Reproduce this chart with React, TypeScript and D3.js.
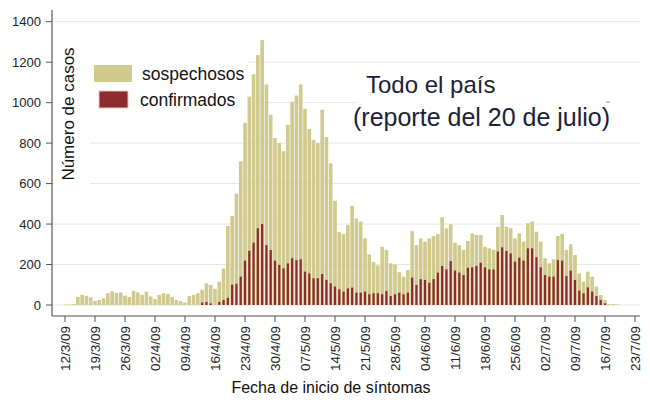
import React from "react";
import * as d3 from "d3";

// Daily series starting 12/3/2009
const startDate = new Date(2009, 2, 12);
const endDate = new Date(2009, 6, 23);

const sospechosos = [
  3, 3, 5, 40, 50, 45, 38, 20, 25, 33,
  58, 68, 60, 62, 46, 40, 70, 62, 50, 66,
  42, 30, 50, 58, 55, 40, 25, 20, 12, 44,
  50, 58, 75, 107, 99, 80, 115, 180, 390, 440,
  550, 710, 900, 1030, 1140, 1235, 1310, 1090, 940, 825,
  800, 760, 890, 1005, 1035, 1090, 970, 870, 815, 800,
  965, 830, 700, 515, 360, 350, 395, 490, 428, 412,
  330, 250, 212, 195, 288, 272, 206, 200, 162, 140,
  173, 365, 296, 329, 313, 329, 341, 350, 433, 379,
  399, 308, 296, 272, 316, 354, 346, 346, 288, 280,
  272, 387, 445, 387, 379, 329, 354, 313, 404, 412,
  362, 313, 231, 206, 226, 341, 351, 272, 300, 247,
  156, 115, 165, 140, 91, 49, 25, 5, 5, 3,
];

const confirmados = [
  0, 0, 0, 0, 0, 0, 0, 0, 0, 0,
  0, 0, 0, 0, 0, 0, 0, 0, 0, 0,
  0, 0, 0, 0, 0, 0, 0, 0, 0, 0,
  0, 0, 12, 15, 8, 0, 15, 25, 35, 100,
  105, 140, 219, 268, 308, 379, 400, 296, 272, 219,
  198, 181, 206, 231, 222, 226, 165, 156, 132, 132,
  153, 124, 107, 91, 77, 66, 82, 86, 61, 61,
  66, 53, 58, 58, 53, 69, 44, 53, 61, 53,
  61, 135, 99, 128, 124, 110, 128, 160, 193, 176,
  217, 170, 160, 148, 184, 186, 193, 209, 186, 176,
  176, 264, 285, 267, 255, 214, 234, 219, 280, 280,
  236, 186, 148, 140, 140, 222, 219, 143, 170, 124,
  71, 58, 87, 66, 44, 25, 8, 0, 0, 0,
];

const xTickLabels = [
  "12/3/09", "19/3/09", "26/3/09", "02/4/09", "09/4/09", "16/4/09", "23/4/09",
  "30/4/09", "07/5/09", "14/5/09", "21/5/09", "28/5/09", "04/6/09", "11/6/09",
  "18/6/09", "25/6/09", "02/7/09", "09/7/09", "16/7/09", "23/7/09",
];

const yTicks = [0, 200, 400, 600, 800, 1000, 1200, 1400];

const legendLabels = ["sospechosos", "confirmados"];
const titleLines = ["Todo el país", "(reporte del 20 de julio)"];
const xTitle = "Fecha de inicio de síntomas";
const yTitle = "Número de casos";

const KHAKI = "#d0ca8e";
const RED = "#8d2c2e";
const FONT = "'Liberation Sans', Arial, sans-serif";

export default function App() {
  const x = d3.scaleTime().domain([startDate, endDate]).range([65, 635]);
  const y = d3.scaleLinear().domain([0, 1400]).range([305, 21.7]);
  const dayDate = (i: number) => d3.timeDay.offset(startDate, i);
  const wS = 3.6;
  const wC = 2.2;
  const axisY = 316;
  const axisX = 52;

  return (
    <svg width={650} height={400} style={{ display: "block", position: "absolute", left: 0, top: 0 }} fontFamily={FONT}>
      <rect x={0} y={0} width={650} height={400} fill="#fff" />
      {/* gridlines */}
      {yTicks.map((t) => (
        <line key={"g" + t} x1={axisX} x2={640} y1={y(t)} y2={y(t)} stroke="#e6e6e6" strokeWidth={1} />
      ))}
      {/* boxes behind y title, legend and title */}
      <rect x={54} y={40} width={36} height={150} fill="#fff" />
      <rect x={90} y={52} width={158} height={62} fill="#fff" />
      <rect x={357} y={68} width={283} height={64} fill="#fff" />
      <line x1={606} x2={610} y1={102} y2={102} stroke="#999" strokeWidth={1} />
      {/* bars */}
      {sospechosos.map((v, i) => (
        <rect key={"s" + i} x={x(dayDate(i)) - wS / 2} y={y(v)} width={wS} height={y(0) - y(v)} fill={KHAKI} />
      ))}
      {confirmados.map((v, i) =>
        v > 0 ? (
          <rect key={"c" + i} x={x(dayDate(i)) - wC / 2} y={y(v)} width={wC} height={y(0) - y(v)} fill={RED} />
        ) : null
      )}
      {/* y axis */}
      <line x1={axisX} x2={axisX} y1={10} y2={axisY} stroke="#555" strokeWidth={1.2} />
      {yTicks.map((t) => (
        <g key={"yt" + t}>
          <line x1={axisX - 6} x2={axisX} y1={y(t)} y2={y(t)} stroke="#555" strokeWidth={1} />
          <text x={41} y={y(t)} dy="0.35em" textAnchor="end" fontSize={13} fill="#222">
            {t}
          </text>
        </g>
      ))}
      {/* x axis */}
      <line x1={axisX} x2={640} y1={axisY} y2={axisY} stroke="#555" strokeWidth={1.2} />
      {xTickLabels.map((lab, i) => {
        const xx = x(dayDate(i * 7));
        return (
          <g key={"xt" + i}>
            <line x1={xx} x2={xx} y1={axisY} y2={axisY + 6} stroke="#555" strokeWidth={1} />
            <text
              transform={`translate(${xx},${axisY + 10}) rotate(-90)`}
              dy="0.35em"
              textAnchor="end"
              fontSize={13.5}
              fill="#222"
            >
              {lab}
            </text>
          </g>
        );
      })}
      {/* axis titles */}
      <text x={331} y={393} textAnchor="middle" fontSize={16} fill="#111">
        {xTitle}
      </text>
      <text transform="translate(74,114) rotate(-90)" textAnchor="middle" fontSize={17} fill="#111">
        {yTitle}
      </text>
      {/* legend */}
      <rect x={94} y={65} width={38} height={17} fill={KHAKI} />
      <text x={142} y={80} fontSize={17.5} fill="#111">
        {legendLabels[0]}
      </text>
      <rect x={99} y={91} width={29} height={17} fill={RED} stroke="#e8c8b8" strokeWidth={1} />
      <text x={140} y={106} fontSize={17.5} fill="#111">
        {legendLabels[1]}
      </text>
      {/* title */}
      <text x={366} y={93} fontSize={24} fill="#1b2236">
        {titleLines[0]}
      </text>
      <text x={353} y={126} fontSize={25} fill="#1b2236">
        {titleLines[1]}
      </text>
    </svg>
  );
}
